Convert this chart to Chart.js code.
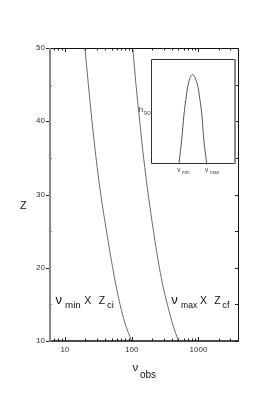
<!DOCTYPE html>
<html>
<head>
<meta charset="utf-8">
<script src="https://cdn.jsdelivr.net/npm/chart.js@4.4.1/dist/chart.umd.min.js"></script>
<style>
  html, body { margin: 0; padding: 0; background: #fff; }
  #wrap { position: relative; width: 275px; height: 393px; }
  #main { position: absolute; left: 0; top: 0; }
  #inset { position: absolute; left: 145px; top: 55px; }
</style>
</head>
<body>
<div id="wrap">
  <canvas id="main" width="275" height="393"></canvas>
  <canvas id="inset" width="100" height="125"></canvas>
</div>
<script>
// redshift values along both curves (y axis), top to bottom
const zValues = [50, 45, 40, 35, 30, 25, 20, 17.5, 15, 12.5, 10];
const nuMinCurve = [20, 22.5, 25.5, 29.3, 34.5, 42, 52, 58.5, 67, 79, 100];
const nuMaxCurve = [104, 116, 132, 151, 177, 212, 260, 294, 342, 405, 500];

const xTickLabels = [10, 100, 1000];
const xMinorTicks = [6, 7, 8, 9, 20, 30, 40, 50, 60, 70, 80, 90,
  200, 300, 400, 500, 600, 700, 800, 900, 2000, 3000];
const yTickLabels = [10, 20, 30, 40, 50];
const yMinorTicks = [15, 25, 35, 45];

// inset: bell shaped profile between nu_min and nu_max
const insetX = [3.33, 3.65, 3.92, 4.15, 4.47, 4.94, 5.47, 5.82, 6.06, 6.29, 6.62];
const insetY = [0, 0.22, 0.46, 0.61, 0.77, 0.85, 0.77, 0.61, 0.46, 0.22, 0];

const FONT = '"Liberation Sans", Arial, Helvetica, sans-serif';

function txt(ctx, s, x, y, size, color) {
  ctx.font = size + 'px ' + FONT;
  ctx.fillStyle = color || '#111';
  ctx.textAlign = 'left';
  ctx.textBaseline = 'alphabetic';
  ctx.fillText(s, x, y);
}

const framePlugin = {
  id: 'frame',
  afterDraw(chart) {
    const { ctx, chartArea: a, scales } = chart;
    const x = scales.x, y = scales.y;
    ctx.save();

    // tick marks
    ctx.strokeStyle = '#222';
    ctx.lineWidth = 1;
    ctx.beginPath();
    xTickLabels.forEach(v => {
      const px = Math.round(x.getPixelForValue(v)) + 0.5;
      ctx.moveTo(px, a.bottom); ctx.lineTo(px, a.bottom - 4);
      ctx.moveTo(px, a.top); ctx.lineTo(px, a.top + 4);
    });
    xMinorTicks.forEach(v => {
      const px = Math.round(x.getPixelForValue(v)) + 0.5;
      ctx.moveTo(px, a.bottom); ctx.lineTo(px, a.bottom - 2.5);
      ctx.moveTo(px, a.top); ctx.lineTo(px, a.top + 2.5);
    });
    yTickLabels.forEach(v => {
      const py = Math.round(y.getPixelForValue(v)) + 0.5;
      ctx.moveTo(a.left - 4, py); ctx.lineTo(a.left, py);
      ctx.moveTo(a.right, py); ctx.lineTo(a.right - 3, py);
    });
    yMinorTicks.forEach(v => {
      const py = Math.round(y.getPixelForValue(v)) + 0.5;
      ctx.moveTo(a.left, py); ctx.lineTo(a.left + 1.5, py);
      ctx.moveTo(a.right, py); ctx.lineTo(a.right - 3, py);
    });
    ctx.stroke();

    // box
    ctx.strokeStyle = '#111';
    ctx.lineWidth = 1;
    ctx.beginPath();
    ctx.moveTo(a.left, a.top + 0.5); ctx.lineTo(a.right + 0.5, a.top + 0.5);
    ctx.lineTo(a.right + 0.5, a.bottom);
    ctx.stroke();
    ctx.lineWidth = 1.5;
    ctx.beginPath();
    ctx.moveTo(a.left, a.bottom); ctx.lineTo(a.right + 1, a.bottom);
    ctx.stroke();
    ctx.strokeStyle = '#888';
    ctx.lineWidth = 2;
    ctx.beginPath();
    ctx.moveTo(a.left, a.top); ctx.lineTo(a.left, a.bottom + 0.75);
    ctx.stroke();

    // axis titles
    txt(ctx, 'Z', 20, 209, 11);
    txt(ctx, 'ν', 132.5, 370.7, 11.5);
    txt(ctx, 'obs', 140, 377.7, 10);

    // curve labels
    txt(ctx, 'ν', 55.5, 304, 13);
    txt(ctx, 'min', 65, 308.3, 9.8);
    txt(ctx, 'X', 84.3, 304, 10.5);
    txt(ctx, 'Z', 98.7, 304, 10.5);
    txt(ctx, 'ci', 107, 308.3, 9.3);

    txt(ctx, 'ν', 171.2, 304, 13);
    txt(ctx, 'max', 181, 308.3, 8.6);
    txt(ctx, 'X', 200, 304, 10.5);
    txt(ctx, 'Z', 214.3, 304, 10.5);
    txt(ctx, 'cf', 222.3, 308.3, 9.3);

    txt(ctx, 'h', 138.8, 111.5, 8, '#444');
    txt(ctx, '90', 143.8, 114.5, 6.2, '#555');
    ctx.restore();
  }
};

const curveStyle = {
  showLine: true, borderColor: '#6a6a6a', borderWidth: 1,
  pointRadius: 0, cubicInterpolationMode: 'monotone',
};

new Chart(document.getElementById('main'), {
  type: 'scatter',
  data: {
    datasets: [
      { ...curveStyle, data: zValues.map((z, i) => ({ x: nuMinCurve[i], y: z })) },
      { ...curveStyle, data: zValues.map((z, i) => ({ x: nuMaxCurve[i], y: z })) },
    ],
  },
  options: {
    responsive: false,
    animation: false,
    layout: { padding: { left: 0, top: 48, right: 37, bottom: 0 } },
    scales: {
      x: {
        type: 'logarithmic', min: 6, max: 3900,
        grid: { display: false, drawTicks: false },
        border: { display: false },
        afterBuildTicks: s => { s.ticks = xTickLabels.map(v => ({ value: v })); },
        afterFit: s => { s.height = 52; },
        ticks: {
          padding: 4, color: '#333', maxRotation: 0, autoSkip: false,
          font: { family: FONT, size: 8 },
          callback: v => String(v),
        },
      },
      y: {
        min: 10, max: 50,
        grid: { display: false, drawTicks: false },
        border: { display: false },
        afterBuildTicks: s => { s.ticks = yTickLabels.map(v => ({ value: v })); },
        afterFit: s => { s.width = 50; },
        ticks: {
          padding: 5, color: '#333',
          font: { family: FONT, size: 8 },
          callback: v => String(v),
        },
      },
    },
    plugins: { legend: { display: false }, tooltip: { enabled: false } },
  },
  plugins: [framePlugin],
});

const insetPlugin = {
  id: 'insetFrame',
  afterDraw(chart) {
    const { ctx, chartArea: a, scales } = chart;
    const x = scales.x;
    ctx.save();
    ctx.strokeStyle = '#333';
    ctx.lineWidth = 1;
    ctx.beginPath();
    ctx.moveTo(a.right, a.top + 0.5); ctx.lineTo(a.left + 0.5, a.top + 0.5);
    ctx.lineTo(a.left + 0.5, a.bottom + 0.5); ctx.lineTo(a.right, a.bottom + 0.5);
    ctx.stroke();
    ctx.strokeStyle = '#8a8a8a';
    ctx.lineWidth = 2;
    ctx.beginPath();
    ctx.moveTo(a.right, a.top); ctx.lineTo(a.right, a.bottom + 1);
    ctx.stroke();

    const x0 = x.getPixelForValue(insetX[0]);
    const x1 = x.getPixelForValue(insetX[insetX.length - 1]);
    txt(ctx, 'ν', x0 - 1.8, 117, 6.5, '#333');
    txt(ctx, 'min', x0 + 3, 119.2, 4.8, '#444');
    txt(ctx, 'ν', x1 - 1.5, 117, 6.5, '#333');
    txt(ctx, 'max', x1 + 3.4, 119.2, 4.9, '#444');
    ctx.restore();
  }
};

new Chart(document.getElementById('inset'), {
  type: 'scatter',
  data: {
    datasets: [{
      data: insetX.map((v, i) => ({ x: v, y: insetY[i] })),
      showLine: true, borderColor: '#555', borderWidth: 1,
      pointRadius: 0, tension: 0.4,
    }],
  },
  options: {
    responsive: false,
    animation: false,
    layout: { padding: { left: 6, top: 4, right: 10, bottom: 17 } },
    scales: {
      x: { type: 'linear', min: 0, max: 10, display: false },
      y: { min: 0, max: 1, display: false },
    },
    plugins: { legend: { display: false }, tooltip: { enabled: false } },
  },
  plugins: [insetPlugin],
});
</script>
</body>
</html>
